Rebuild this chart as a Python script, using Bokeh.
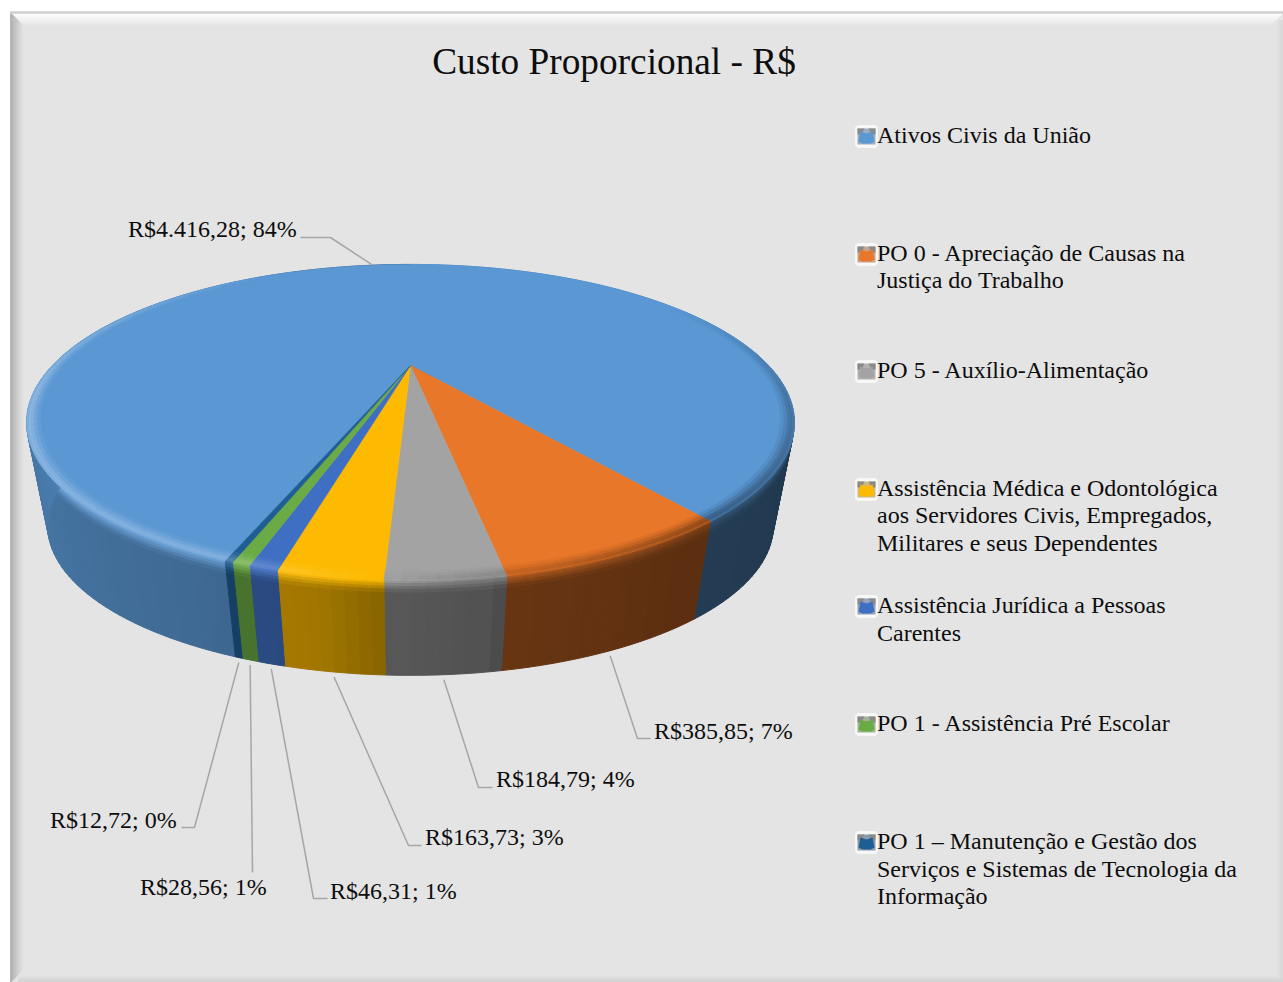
import math
from bokeh.plotting import figure
from bokeh.embed import file_html
from bokeh.resources import INLINE
from bokeh.core.properties import value

# ---- data ----
title_text = "Custo Proporcional - R$"
slice_values = [4416.28, 385.85, 184.79, 163.73, 46.31, 28.56, 12.72]
slice_labels = ["R$4.416,28; 84%", "R$385,85; 7%", "R$184,79; 4%", "R$163,73; 3%",
                "R$46,31; 1%", "R$28,56; 1%", "R$12,72; 0%"]
legend_lines = [
    ["Ativos Civis da União"],
    ["PO 0 - Apreciação de Causas na", "Justiça do Trabalho"],
    ["PO 5 - Auxílio-Alimentação"],
    ["Assistência Médica e Odontológica", "aos Servidores Civis, Empregados,", "Militares e seus Dependentes"],
    ["Assistência Jurídica a Pessoas", "Carentes"],
    ["PO 1 - Assistência Pré Escolar"],
    ["PO 1 – Manutenção e Gestão dos", "Serviços e Sistemas de Tecnologia da", "Informação"],
]

# ---- style / layout ----
slice_colors = ["#5a97d3", "#e97729", "#a3a3a3", "#fdba00", "#3f6fc3", "#6bab45", "#1f5e94"]
FONT = "Liberation Serif"
W, H = 1283, 982
BG = "#e4e4e4"
first_angle = 200.0
# projective view of the pie disc
CX, CY, R, K, A = 410.0, 365.0, 358.0, 0.361, -5.8
VX, VY, S = 410.0, 2300.0, 0.945
legend_y = [[134], [252, 279], [369], [487, 514, 542], [604, 632], [722], [840, 868, 895]]
legend_x = 876.5
label_pos = [(127.5, 228, 300, 237, 330, 237, "top"), (653.5, 730, 650, 738, 637, 738, "side"),
             (495.5, 778, 492, 787, 478, 787, "side"), (424.5, 836, 421, 845, 408, 845, "side"),
             (329.5, 890, 327, 898, 313, 898, "side"), (139.5, 886, 252, 872, 252, 872, "side"),
             (49.5, 819, 181, 827, 194, 827, "side")]


def hex2rgb(c):
    return tuple(int(c[i:i + 2], 16) for i in (1, 3, 5))


def rgb2hex(c):
    return "#%02x%02x%02x" % tuple(max(0, min(255, int(round(v)))) for v in c)


def mix(c, other, f):
    a, b = hex2rgb(c), hex2rgb(other)
    return rgb2hex([a[i] + (b[i] - a[i]) * f for i in range(3)])


def interp(t, table):
    t = t % 360
    for (a, va), (b, vb) in zip(table, table[1:]):
        if a <= t <= b:
            return va + (vb - va) * (t - a) / (b - a)
    return table[-1][1]


def top(t, r=1.0):
    u, v = r * math.sin(math.radians(t)), r * math.cos(math.radians(t))
    d = 1 + K * v
    return CX + R * u / d, (A * v + CY) / d


def drop(p, f=1.0):
    s = 1 - (1 - S) * f
    return VX + (p[0] - VX) * s, VY + (p[1] - VY) * s


side_table = [(0, .40), (90, .36), (150, .40), (170, .45), (172, .50), (183, .54), (190, .64), (205, .70), (270, .84), (300, .84), (360, .60)]
rim_table = [(0, 0), (60, 0), (100, -.22), (145, -.38), (175, -.12), (200, .24), (260, .30), (300, .14), (335, 0), (360, 0)]
rim_profile = [(.968, .976, .2), (.976, .984, .5), (.984, .99, .85), (.99, .996, 1.0), (.996, 1.0, .85)]

total = sum(slice_values)
bounds = [first_angle]
for v in slice_values:
    bounds.append(bounds[-1] + v / total * 360)

p = figure(width=W, height=H, x_range=(0, W), y_range=(H, 0),
           output_backend="svg", toolbar_location=None, min_border=0,
           x_axis_type=None, y_axis_type=None, background_fill_color="white", border_fill_color="white")
p.grid.visible = False
p.outline_line_color = None

# ---- panel with bevelled frame ----
L, T, RT, B = 10, 12, 1283, 982
bx, by, bc = [], [], []
bx.append([L, RT, RT, L]); by.append([T, T, B, B]); bc.append(BG)
steps = 14
for i in range(steps):
    d0, d1 = i, i + 1
    f = i / (steps - 1)
    # top
    bx.append([L + d0, RT - d0, RT - d1, L + d1]); by.append([T + d0, T + d0, T + d1, T + d1]); bc.append(mix("#ffffff", BG, f ** 1.3))
    # left
    bx.append([L + d0, L + d1, L + d1, L + d0]); by.append([T + d0, T + d1, B - d1, B - d0]); bc.append(mix("#a8a8a8", BG, f ** .8))
for i in range(8):
    f = i / 7
    bx.append([L + 8, RT - i, RT - i - 1, L + 8]); by.append([B - i, B - i, B - i - 1, B - i - 1]); bc.append(mix("#cfcfcf", BG, f))
    bx.append([RT - i, RT - i - 1, RT - i - 1, RT - i]); by.append([T + 8, T + 8, B - i - 1, B - i]); bc.append(mix("#d4d4d4", BG, f))
bx.append([L, RT, RT, L]); by.append([T - 1, T - 1, T + 1, T + 1]); bc.append("#cfcfcf")
p.patches(bx, by, fill_color=bc, line_color=bc, line_width=.5)

# ---- side wall ----
xs, ys, cs = [], [], []
STEP = 1.5
rows = [(0, .03), (.03, .06), (.06, .09), (.09, .13), (.13, 1.0)]
for i, col in enumerate(slice_colors):
    n = max(1, int(math.ceil((bounds[i + 1] - bounds[i]) / STEP)))
    for j in range(n):
        t0 = bounds[i] + (bounds[i + 1] - bounds[i]) * j / n
        t1 = bounds[i] + (bounds[i + 1] - bounds[i]) * (j + 1) / n
        tm = (t0 + t1) / 2
        base = mix(col, "#000000", 1 - interp(tm, side_table))
        rb = interp(tm, rim_table)
        fade = max(0.0, min(1.0, (285 - tm % 360) / 45)) if 200 < tm % 360 < 360 else 1.0
        edge = mix(col, "#ffffff" if rb > 0 else "#000000", max(0, rb) * .5 + max(0, -rb) * 1.2)
        edge = mix(base, edge, fade)
        a, b = top(t0), top(t1)
        for k, (f0, f1) in enumerate(rows):
            xs.append([drop(a, f0)[0], drop(b, f0)[0], drop(b, f1)[0], drop(a, f1)[0]])
            ys.append([drop(a, f0)[1], drop(b, f0)[1], drop(b, f1)[1], drop(a, f1)[1]])
            mf = min(1.0, (k + .5) / (len(rows) - 1))
            cs.append(mix(edge, base, mf))
p.patches(xs, ys, fill_color=cs, line_color=cs, line_width=1)

# ---- top face ----
xs, ys = [], []
for i in range(len(slice_values)):
    n = max(2, int((bounds[i + 1] - bounds[i]) / 1.0) + 1)
    pts = [top(bounds[i] + (bounds[i + 1] - bounds[i]) * j / n) for j in range(n + 1)]
    xs.append([CX] + [q[0] for q in pts])
    ys.append([CY] + [q[1] for q in pts])
p.patches(xs, ys, fill_color=slice_colors, line_color=slice_colors, line_width=.6)

# ---- rim bevel ----
xs, ys, cs = [], [], []
for i, col in enumerate(slice_colors):
    n = max(1, int(math.ceil((bounds[i + 1] - bounds[i]) / 2.0)))
    for j in range(n):
        t0 = bounds[i] + (bounds[i + 1] - bounds[i]) * j / n
        t1 = bounds[i] + (bounds[i + 1] - bounds[i]) * (j + 1) / n
        rb = interp((t0 + t1) / 2, rim_table)
        if abs(rb) < .005:
            continue
        for r0, r1, w in rim_profile:
            q = [top(t0, r0), top(t1, r0), top(t1, r1), top(t0, r1)]
            xs.append([a[0] for a in q]); ys.append([a[1] for a in q])
            cs.append(mix(col, "#ffffff" if rb > 0 else "#000000", abs(rb) * w))
p.patches(xs, ys, fill_color=cs, line_color=cs, line_width=.3)

# ---- leader lines & labels ----
for i, lab in enumerate(slice_labels):
    lx, ly, ex, ey, kx, ky, kind = label_pos[i]
    tm = (bounds[i] + bounds[i + 1]) / 2
    a = top(tm)
    if kind == "side":
        a = drop(a)
        a = (a[0], a[1] + 5)
    p.line([ex, kx, a[0]], [ey, ky, a[1]], line_color="#a6a6a6", line_width=1.5)
    p.text([lx], [ly], text=[lab], text_font=value(FONT), text_font_size="24px",
           text_color="#0d0d0d", text_baseline="middle", text_align="left")

# ---- title ----
p.text([613.5], [61], text=[title_text], text_font=value(FONT), text_font_size="37.3px",
       text_color="#0d0d0d", text_baseline="middle", text_align="center")

# ---- legend ----
for col, lines, yy in zip(slice_colors, legend_lines, legend_y):
    y0 = yy[0] + 2
    x0, x1, y_0, y_1 = 855, 877, y0 - 11, y0 + 11
    c = 2
    p.patches([[x0 + c, x1 - c, x1, x1, x1 - c, x0 + c, x0, x0]],
              [[y_0, y_0, y_0 + c, y_1 - c, y_1, y_1, y_1 - c, y_0 + c]],
              fill_color="#f8f8f8", line_color="#ffffff", line_width=.5)
    p.patches([[x0 + 2, x1 - 2, x1 - 2, x0 + 2]], [[y_0 + 3, y_0 + 3, y_1 - 3, y_1 - 3]],
              fill_color=mix(col, "#b8b8b8", .7), line_color=None)
    # grey corner wedges and the coloured bow-tie in the middle of the key
    p.patches([[x0 + 2, x0 + 9, x0 + 6, x0 + 2], [x1 - 2, x1 - 9, x1 - 6, x1 - 2]],
              [[y_0 + 3, y_0 + 3, y_0 + 9, y_0 + 9], [y_0 + 3, y_0 + 3, y_0 + 9, y_0 + 9]],
              fill_color="#8a8a8a", line_color=None)
    p.patches([[x0 + 5, x0 + 11, x1 - 5, x1 - 3, x1 - 7, x0 + 7, x0 + 3]],
              [[y_0 + 6, y_0 + 8, y_0 + 6, y_1 - 6, y_1 - 4, y_1 - 4, y_1 - 6]],
              fill_color=col, line_color=None)
    for t, y in zip(lines, yy):
        p.text([legend_x], [y], text=[t], text_font=value(FONT), text_font_size="24px",
               text_color="#0d0d0d", text_baseline="middle", text_align="left")

open("out.html", "w").write(file_html(p, INLINE))
